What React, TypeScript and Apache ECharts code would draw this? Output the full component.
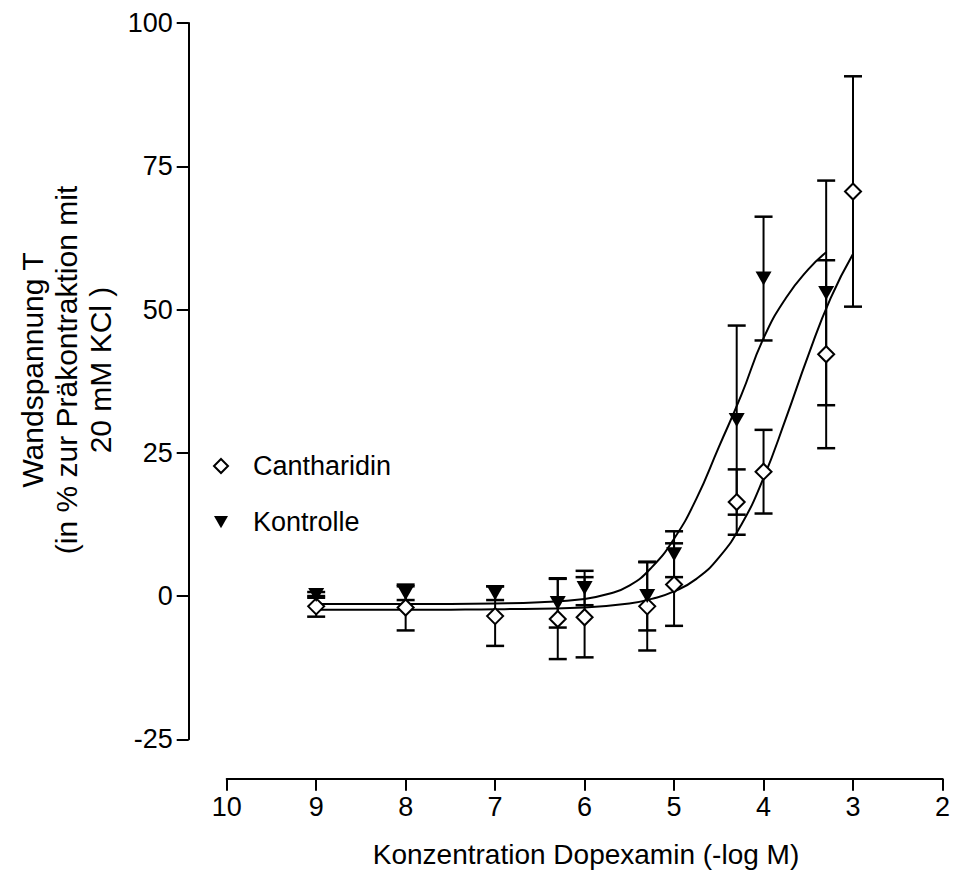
import React, { useEffect, useRef } from "react";
import * as echarts from "echarts";

// Measured points (x = -log M)
const canthX = [9, 8, 7, 6.3, 6, 5.3, 5, 4.3, 4, 3.3, 3];
const canthMean = [-1.8, -2, -3.5, -4, -3.7, -1.8, 2, 16.4, 21.7, 42.2, 70.6];
const canthSem = [1.8, 4, 5.2, 7, 7, 7.7, 7.2, 5.7, 7.3, 16.4, 20.1];

const kontX = [9, 8, 7, 6.3, 6, 5.3, 5, 4.3, 4, 3.3];
const kontMean = [0.2, 0.5, 0.5, -1.2, 1.4, 0, 7.3, 30.7, 55.4, 52.9];
const kontSem = [0.5, 1.2, 1.2, 4.3, 3, 6, 4, 16.5, 10.8, 19.6];

// Fitted curves
const canthCurveX = [9, 8, 7, 6.5, 6, 5.5, 5.25, 5, 4.75, 4.5, 4.25, 4, 3.75, 3.5, 3.25, 3];
const canthCurveY = [-2.4, -2.4, -2.3, -2.2, -2.0, -1.3, -0.5, 0.8, 3, 6.7, 12.4, 20.6, 31, 42, 52, 59.7];
const kontCurveX = [9, 8, 7, 6.5, 6, 5.75, 5.5, 5.25, 5, 4.75, 4.5, 4.25, 4, 3.75, 3.5, 3.3];
const kontCurveY = [-1.4, -1.4, -1.3, -1.1, -0.5, 0.3, 1.8, 5, 10, 17, 26, 35, 45, 52, 57, 60];

const xTicks = { min: 2, max: 10, interval: 1 };
const yTicks = { min: -25, max: 100, interval: 25 };

const FONT = "Liberation Sans, Arial, sans-serif";
const triPath = "path://M0,0 L16,0 L8,14 Z";

function zip(a: number[], b: number[]) {
  return a.map((v, i) => [v, b[i]]);
}
function zip3(a: number[], b: number[], c: number[]) {
  return a.map((v, i) => [v, b[i], c[i]]);
}

function errRender(params: any, api: any) {
  const x = api.value(0);
  const y = api.value(1);
  const e = api.value(2);
  const top = api.coord([x, y + e]);
  const bot = api.coord([x, y - e]);
  const hw = 9;
  const st = { stroke: "#000", lineWidth: 2 };
  return {
    type: "group",
    children: [
      { type: "line", shape: { x1: top[0], y1: top[1], x2: bot[0], y2: bot[1] }, style: st },
      { type: "line", shape: { x1: top[0] - hw, y1: top[1], x2: top[0] + hw, y2: top[1] }, style: { stroke: "#000", lineWidth: 2.5 } },
      { type: "line", shape: { x1: bot[0] - hw, y1: bot[1], x2: bot[0] + hw, y2: bot[1] }, style: { stroke: "#000", lineWidth: 2.5 } },
    ],
  };
}

export default function App() {
  const ref = useRef<HTMLDivElement>(null);
  useEffect(() => {
    if (!ref.current) return;
    const chart = echarts.init(ref.current, undefined, { renderer: "svg" });
    const axisStyle = { color: "#000", width: 2 };
    chart.setOption({
      animation: false,
      backgroundColor: "#fff",
      grid: { left: 226.7, right: 8.7, top: 23, bottom: 133.7 },
      legend: {
        orient: "vertical",
        left: 208,
        top: 446,
        itemGap: 26,
        itemWidth: 14,
        itemHeight: 14,
        textStyle: { fontFamily: FONT, fontSize: 27, color: "#000", lineHeight: 30, padding: [0, 0, 0, 20] },
        data: [
          { name: "Cantharidin", icon: "diamond", itemStyle: { color: "#fff", borderColor: "#000", borderWidth: 2 } },
          { name: "Kontrolle", icon: triPath, itemStyle: { color: "#000", borderWidth: 0 } },
        ],
      },
      xAxis: {
        type: "value",
        ...xTicks,
        inverse: true,
        offset: 39.4,
        axisLine: { show: true, onZero: false, lineStyle: axisStyle },
        axisTick: { show: true, length: 12, lineStyle: axisStyle },
        splitLine: { show: false },
        axisLabel: { color: "#000", fontFamily: FONT, fontSize: 27, margin: 15 },
      },
      yAxis: {
        type: "value",
        ...yTicks,
        offset: 38,
        axisLine: { show: true, onZero: false, lineStyle: axisStyle },
        axisTick: { show: true, length: 12, lineStyle: axisStyle },
        splitLine: { show: false },
        axisLabel: { color: "#000", fontFamily: FONT, fontSize: 27, margin: 16 },
      },
      graphic: [
        {
          type: "text",
          x: 66,
          y: 370,
          rotation: Math.PI / 2,
          style: {
            text: "Wandspannung T\n(in % zur Präkontraktion mit\n20 mM KCl )",
            fontFamily: FONT,
            fontSize: 30,
            lineHeight: 34,
            fill: "#000",
            align: "center",
            verticalAlign: "middle",
          },
        },
        {
          type: "text",
          x: 586,
          y: 854,
          style: {
            text: "Konzentration Dopexamin (-log M)",
            fontFamily: FONT,
            fontSize: 28,
            fill: "#000",
            align: "center",
            verticalAlign: "middle",
          },
        },
      ],
      series: [
        {
          type: "line",
          name: "canthCurve",
          data: zip(canthCurveX, canthCurveY),
          smooth: true,
          showSymbol: false,
          lineStyle: { color: "#000", width: 2 },
          z: 1,
        },
        {
          type: "line",
          name: "kontCurve",
          data: zip(kontCurveX, kontCurveY),
          smooth: true,
          showSymbol: false,
          lineStyle: { color: "#000", width: 2 },
          z: 1,
        },
        {
          type: "custom",
          name: "canthErr",
          renderItem: errRender,
          encode: { x: 0, y: 1 },
          data: zip3(canthX, canthMean, canthSem),
          z: 2,
        },
        {
          type: "custom",
          name: "kontErr",
          renderItem: errRender,
          encode: { x: 0, y: 1 },
          data: zip3(kontX, kontMean, kontSem),
          z: 2,
        },
        {
          type: "scatter",
          name: "Cantharidin",
          data: zip(canthX, canthMean),
          symbol: "diamond",
          symbolSize: [16, 16],
          itemStyle: { color: "#fff", borderColor: "#000", borderWidth: 2, opacity: 1 },
          z: 3,
        },
        {
          type: "scatter",
          name: "Kontrolle",
          data: zip(kontX, kontMean),
          symbol: triPath,
          symbolSize: [16, 14],
          itemStyle: { color: "#000", opacity: 1 },
          z: 4,
        },
      ],
    });
    return () => chart.dispose();
  }, []);
  return (
    <div
      ref={ref}
      style={{ position: "fixed", left: 0, top: 0, width: 953, height: 873, background: "#fff" }}
    />
  );
}
